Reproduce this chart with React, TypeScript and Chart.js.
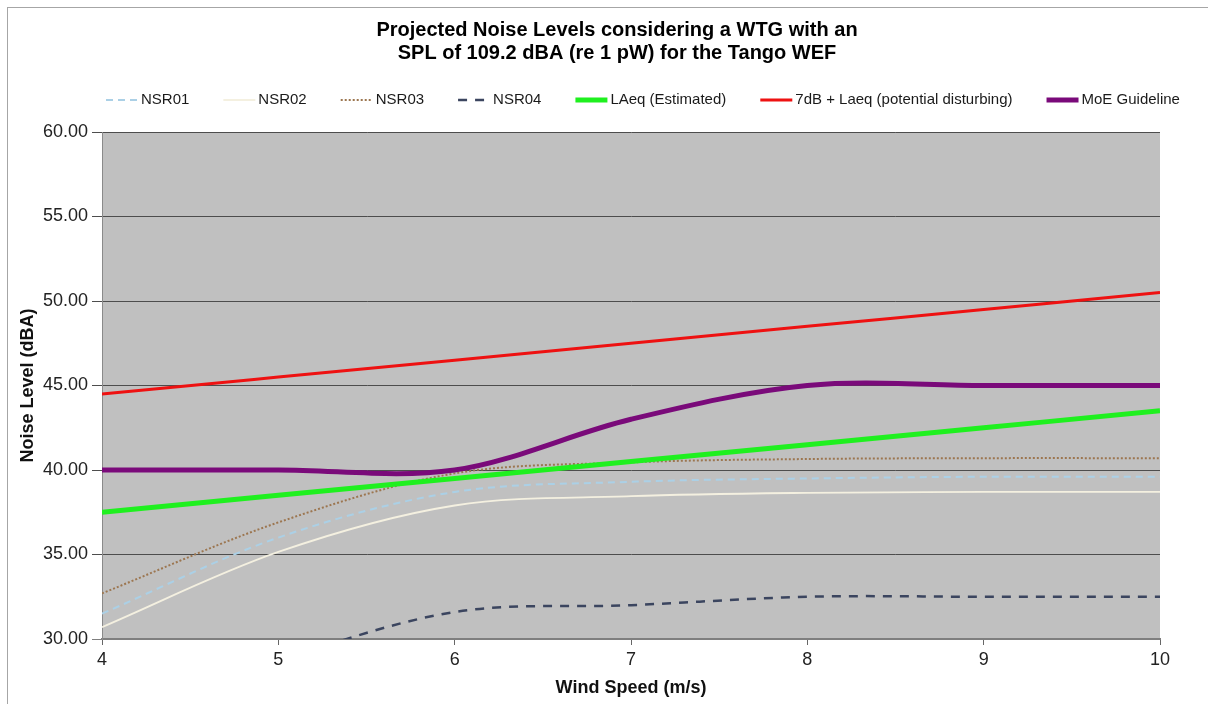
import React, { useEffect, useRef } from "react";
import { Chart, registerables } from "chart.js";

Chart.register(...registerables);

// ---- data ----
const windSpeed = [4, 5, 6, 7, 8, 9, 10];
const nsr01 = [31.5, 36.0, 38.7, 39.3, 39.5, 39.6, 39.6];
const nsr02 = [30.7, 35.15, 37.9, 38.45, 38.65, 38.7, 38.7];
const nsr03 = [32.7, 36.9, 39.8, 40.45, 40.65, 40.7, 40.7];
const nsr04 = [25.0, 28.7, 31.6, 32.0, 32.5, 32.5, 32.5];
const laeqEstimated = [37.5, 38.5, 39.5, 40.5, 41.5, 42.5, 43.5];
const laeqPlus7 = [44.5, 45.5, 46.5, 47.5, 48.5, 49.5, 50.5];
const moeGuideline = [40, 40, 40, 43, 45, 45, 45];

const seriesNames = [
  "NSR01",
  "NSR02",
  "NSR03",
  "NSR04",
  "LAeq (Estimated)",
  "7dB + Laeq (potential disturbing)",
  "MoE Guideline",
];
const titleLines = [
  "Projected Noise Levels considering a WTG with an",
  "SPL of 109.2 dBA (re 1 pW) for the Tango WEF",
];
const xAxisTitle = "Wind Speed (m/s)";
const yAxisTitle = "Noise Level (dBA)";
const yMin = 30;
const yMax = 60;
const yStep = 5;
const xMin = 4;
const xMax = 10;

// ---- layout / style constants ----
const W = 1208;
const H = 704;
const FONT = "Arial, 'Liberation Sans', sans-serif";
const LEGEND_X = 106;
const LEGEND_Y = 100;
const LEGEND_SAMPLE = 32;
const LEGEND_GAP = 34;
const TITLE_DX = 37;

const toPoints = (ys: number[]) => windSpeed.map((x, i) => ({ x, y: ys[i] }));

const plotBgPlugin = {
  id: "plotBg",
  beforeDraw(chart: any) {
    const { ctx, chartArea } = chart;
    if (!chartArea) return;
    ctx.save();
    ctx.fillStyle = "#c0c0c0";
    ctx.fillRect(chartArea.left, chartArea.top, chartArea.right - chartArea.left, chartArea.bottom - chartArea.top);
    ctx.restore();
  },
};

const shiftTitlePlugin = {
  id: "shiftTitle",
  afterLayout(chart: any) {
    const t = chart.titleBlock;
    if (t) {
      t.left += TITLE_DX;
      t.right += TITLE_DX;
    }
  },
};

const legendPlugin = {
  id: "lineLegend",
  afterDraw(chart: any) {
    const ctx = chart.ctx;
    ctx.save();
    ctx.font = `15px ${FONT}`;
    ctx.textBaseline = "middle";
    ctx.textAlign = "left";
    let x = LEGEND_X;
    chart.data.datasets.forEach((ds: any) => {
      ctx.save();
      ctx.strokeStyle = ds.borderColor;
      ctx.lineWidth = ds.borderWidth;
      ctx.setLineDash(ds.borderDash || []);
      ctx.beginPath();
      ctx.moveTo(x, LEGEND_Y);
      ctx.lineTo(x + LEGEND_SAMPLE, LEGEND_Y);
      ctx.stroke();
      ctx.restore();
      const tx = x + LEGEND_SAMPLE + 3;
      ctx.fillStyle = "#1a1a1a";
      ctx.fillText(ds.label, tx, LEGEND_Y);
      x = tx + ctx.measureText(ds.label).width + LEGEND_GAP;
    });
    ctx.restore();
  },
};

export default function App() {
  const canvasRef = useRef<HTMLCanvasElement | null>(null);

  useEffect(() => {
    if (!canvasRef.current) return;
    Chart.defaults.font.family = FONT;
    const chart = new Chart(canvasRef.current, {
      type: "line",
      data: {
        datasets: [
          {
            label: seriesNames[0],
            data: toPoints(nsr01),
            borderColor: "#abd0e6",
            borderWidth: 2,
            borderDash: [7, 5],
            order: 7,
          },
          {
            label: seriesNames[1],
            data: toPoints(nsr02),
            borderColor: "#f4f0e0",
            borderWidth: 1.8,
            order: 6,
          },
          {
            label: seriesNames[2],
            data: toPoints(nsr03),
            borderColor: "#9c7650",
            borderWidth: 2,
            borderDash: [2, 2],
            order: 5,
          },
          {
            label: seriesNames[3],
            data: toPoints(nsr04),
            borderColor: "#3b455f",
            borderWidth: 2.5,
            borderDash: [9, 8],
            order: 4,
            clip: 0,
          },
          {
            label: seriesNames[4],
            data: toPoints(laeqEstimated),
            borderColor: "#1ff01f",
            borderWidth: 5,
            order: 3,
          },
          {
            label: seriesNames[5],
            data: toPoints(laeqPlus7),
            borderColor: "#ee1111",
            borderWidth: 3,
            order: 2,
          },
          {
            label: seriesNames[6],
            data: toPoints(moeGuideline),
            borderColor: "#7a0a7a",
            borderWidth: 5,
            order: 1,
          },
        ] as any,
      },
      options: {
        responsive: false,
        animation: false,
        events: [],
        layout: { padding: { left: 0, right: 48, top: 0, bottom: 0 } },
        elements: {
          point: { radius: 0 },
          line: { tension: 1 / 3, capBezierPoints: false, borderCapStyle: "butt" },
        },
        plugins: {
          legend: { display: false },
          tooltip: { enabled: false },
          title: {
            display: true,
            text: titleLines,
            color: "#000",
            font: { size: 20, weight: "bold", family: FONT, lineHeight: 1.15 },
            padding: { top: 18.5, bottom: 67.5 },
          },
        },
        scales: {
          x: {
            type: "linear",
            min: xMin,
            max: xMax,
            ticks: {
              stepSize: 1,
              color: "#222",
              font: { size: 18, family: FONT },
              padding: 4,
            },
            grid: {
              display: true,
              drawOnChartArea: false,
              drawTicks: true,
              tickLength: 6,
              color: "#666",
            },
            border: { display: true, color: "#7f7f7f", width: 2 },
            title: {
              display: true,
              text: xAxisTitle,
              color: "#111",
              font: { size: 18, weight: "bold", family: FONT },
              padding: { top: 0, bottom: 5 },
            },
            afterFit: (s: any) => {
              s.height = 65;
            },
          },
          y: {
            min: yMin,
            max: yMax,
            ticks: {
              stepSize: yStep,
              color: "#222",
              font: { size: 18, family: FONT },
              padding: 4,
              callback: (v: any) => Number(v).toFixed(2),
            },
            grid: {
              display: true,
              drawOnChartArea: true,
              drawTicks: true,
              tickLength: 10,
              color: (c: any) => (c.tick && c.tick.value === yMin ? "#7f7f7f" : "#4d4d4d"),
              lineWidth: 1,
            },
            border: { display: true, color: "#8a8a8a", width: 1 },
            title: {
              display: true,
              text: yAxisTitle,
              color: "#111",
              font: { size: 18, weight: "bold", family: FONT },
              padding: { top: 17, bottom: 0 },
            },
            afterFit: (s: any) => {
              s.width = 102;
            },
          },
        },
      } as any,
      plugins: [plotBgPlugin, shiftTitlePlugin, legendPlugin],
    });
    return () => chart.destroy();
  }, []);

  return (
    <div
      style={{
        position: "fixed",
        left: 0,
        top: 0,
        width: W,
        height: H,
        overflow: "hidden",
        background: "#fff",
      }}
    >
      <div
        style={{
          position: "absolute",
          left: 7,
          top: 7,
          width: 1400,
          height: 900,
          borderLeft: "1px solid #a6a6a6",
          borderTop: "1px solid #a6a6a6",
        }}
      />
      <canvas
        ref={canvasRef}
        width={W}
        height={H}
        style={{ position: "absolute", left: 0, top: 0, width: W, height: H }}
      />
    </div>
  );
}
